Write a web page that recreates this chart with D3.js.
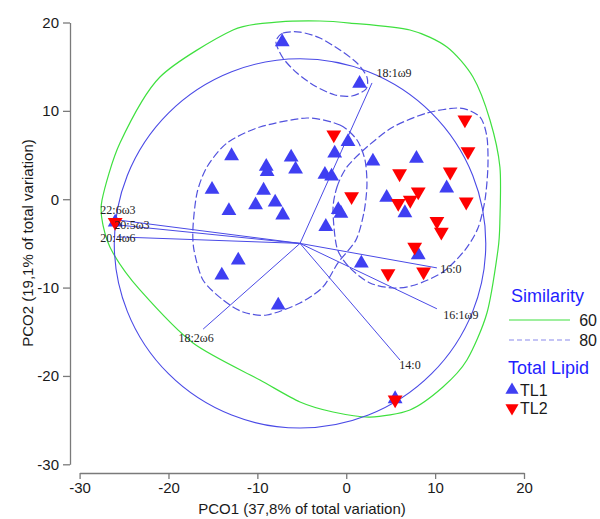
<!DOCTYPE html>
<html>
<head>
<meta charset="utf-8">
<script src="https://cdn.jsdelivr.net/npm/d3@7"></script>
<style>
  body { margin: 0; background: #fff; }
  svg { display: block; font-family: Arial, "Liberation Sans", sans-serif; }
</style>
</head>
<body>
<svg id="chart" width="600" height="519"></svg>
<script>
const xTicks = [-30, -20, -10, 0, 10, 20];
const yTicks = [-30, -20, -10, 0, 10, 20];

const tl1 = [
  [-7.2, 17.8], [1.5, 13.1], [-12.9, 4.9], [-9.0, 3.7], [-8.9, 3.1], [-6.2, 4.75],
  [-5.7, 3.4], [-15.1, 1.1], [-9.3, 1.0], [-10.2, -0.65], [-8.0, -0.35], [-13.2, -1.3],
  [-7.15, -1.8], [-12.15, -6.9], [-14.0, -8.6], [-7.65, -12.0], [0.2, 6.5], [-1.3, 5.2],
  [-2.4, 2.8], [-1.65, 2.6], [3.0, 4.3], [7.9, 4.6], [11.3, 1.25], [4.55, 0.2],
  [6.6, -1.55], [-0.9, -1.2], [-0.6, -1.6], [-2.3, -3.1], [8.1, -6.3], [1.7, -7.25],
  [-26.0, -2.6], [5.5, -22.6]
];

const tl2 = [
  [13.35, 9.0], [13.7, 5.4], [-1.4, 7.3], [6.0, 2.9], [11.7, 3.1], [0.6, 0.3],
  [8.1, 0.85], [7.2, -0.1], [5.85, -0.45], [13.5, -0.3], [10.2, -2.5], [10.7, -3.7],
  [7.7, -5.4], [4.7, -8.4], [8.7, -8.2], [-26.0, -2.6], [5.5, -22.7]
];

// vector overlay
const vecOrigin = [-5.2, -5.0];
const vecRadius = 20.9;
const vecNames = ["22:6ω3", "20:5ω3", "20:4ω6", "18:1ω9", "18:2ω6", "16:0", "16:1ω9", "14:0"];
const vecEnds = [
  [-25.8, -2.34], [-25.8, -2.9], [-25.8, -4.26], [2.9, 13.16],
  [-16.1, -14.7], [10.2, -7.77], [10.2, -12.4], [6.05, -18.2]
];
const vecLabelShift = [[1, -10], [15, 0], [1, 1], [22, -10], [-7, 9], [14, 1], [24, 6], [10, 5]];

// similarity contours
const sim60 = [
  [-2.96, 20.17], [0.42, 19.94], [7.17, 19.15], [11.33, 17.23], [14.26, 13.83], [16.17, 8.97],
  [17.29, 3.65], [17.29, -2.35], [17.07, -5.75], [15.83, -12.88], [13.58, -18.2], [10.88, -21.25],
  [7.17, -23.85], [2.67, -24.65], [-1.49, -24.08], [-5.2, -22.95], [-9.71, -20.46], [-17.24, -16.27],
  [-23.21, -10.27], [-26.24, -6.09], [-27.37, -2.92], [-27.48, -0.09], [-25.46, 6.36], [-20.96, 13.83],
  [-12.74, 19.15], [-7.46, 20.06]
];
const sim80top = [
  [-7.91, 17.79], [-7.12, 18.81], [-5.2, 18.92], [-2.96, 18.25], [-0.71, 16.89], [1.21, 15.42],
  [2.33, 13.83], [2.22, 12.47], [0.64, 11.68], [-1.27, 11.8], [-3.52, 12.81], [-5.54, 14.28],
  [-7.12, 15.98]
];
const sim80left = [
  [-4.42, 9.19], [-0.71, 8.4], [1.21, 6.7], [2.11, 4.44], [2.33, 1.61], [2.0, -1.45],
  [1.1, -4.6], [-0.93, -7.2], [-2.62, -9.93], [-5.2, -11.75], [-8.92, -13.1], [-11.62, -12.76],
  [-13.87, -11.4], [-16.12, -9.14], [-17.13, -5.75], [-17.24, -3.14], [-16.79, 0.7], [-15.67, 3.65],
  [-13.42, 6.36], [-9.71, 8.17]
];
const sim80right = [
  [-1.49, -1.22], [-1.04, 1.38], [0.08, 3.65], [2.33, 5.91], [5.26, 8.17], [9.08, 9.76],
  [12.79, 10.32], [15.04, 9.31], [15.83, 7.04], [15.94, 3.65], [15.61, -0.09], [14.82, -3.26],
  [13.36, -5.75], [10.88, -8.24], [7.73, -9.71], [5.26, -10.05], [2.67, -9.48], [0.42, -7.78],
  [-1.04, -5.52]
];

const blue = "#3f3ff2";
const red = "#ff0000";
const lineBlue = "#4a4ae6";
const green = "#3fe03f";
const axisGrey = "#7a7a7a";

const svg = d3.select("#chart");

const x = d3.scaleLinear().domain([-30, 20]).range([79.6, 524]);
const y = d3.scaleLinear().domain([-30, 20]).range([464.3, 22.5]);

const plot = svg.append("g");

const contour = d3.line()
  .x(d => x(d[0]))
  .y(d => y(d[1]))
  .curve(d3.curveCardinalClosed.tension(0.2));

plot.append("path")
  .attr("d", contour(sim60))
  .attr("fill", "none")
  .attr("stroke", green)
  .attr("stroke-width", 1.2);

[sim80top, sim80left, sim80right].forEach(c => {
  plot.append("path")
    .attr("d", contour(c))
    .attr("fill", "none")
    .attr("stroke", "#5252de")
    .attr("stroke-width", 1.2)
    .attr("stroke-dasharray", "8,3");
});

plot.append("ellipse")
  .attr("cx", x(vecOrigin[0]))
  .attr("cy", y(vecOrigin[1]))
  .attr("rx", x(vecOrigin[0] + vecRadius) - x(vecOrigin[0]))
  .attr("ry", y(vecOrigin[1]) - y(vecOrigin[1] + vecRadius))
  .attr("fill", "none")
  .attr("stroke", lineBlue)
  .attr("stroke-width", 1.1);

plot.selectAll("line.vec")
  .data(vecEnds)
  .join("line")
  .attr("class", "vec")
  .attr("x1", x(vecOrigin[0]))
  .attr("y1", y(vecOrigin[1]))
  .attr("x2", d => x(d[0]))
  .attr("y2", d => y(d[1]))
  .attr("stroke", lineBlue)
  .attr("stroke-width", 1);

const tri = d3.symbol().type(d3.symbolTriangle).size(95);

plot.selectAll("path.tl1")
  .data(tl1)
  .join("path")
  .attr("class", "tl1")
  .attr("d", tri)
  .attr("transform", d => `translate(${x(d[0])},${y(d[1])})`)
  .attr("fill", blue);

plot.selectAll("path.tl2")
  .data(tl2)
  .join("path")
  .attr("class", "tl2")
  .attr("d", tri)
  .attr("transform", d => `translate(${x(d[0])},${y(d[1])}) rotate(180)`)
  .attr("fill", red);

plot.selectAll("text.vlab")
  .data(vecEnds)
  .join("text")
  .attr("class", "vlab")
  .attr("x", (d, i) => x(d[0]) + vecLabelShift[i][0])
  .attr("y", (d, i) => y(d[1]) + vecLabelShift[i][1])
  .attr("dy", "0.35em")
  .attr("text-anchor", "middle")
  .attr("font-family", "'Liberation Serif', 'Times New Roman', serif")
  .attr("font-size", 12)
  .attr("fill", "#222")
  .text((d, i) => vecNames[i]);

// axes
const fmt = d => String(d);
const xAxis = svg.append("g")
  .attr("transform", "translate(0,473)")
  .call(d3.axisBottom(x).tickValues(xTicks).tickFormat(fmt).tickSize(6).tickSizeOuter(0).tickPadding(3));
const yAxis = svg.append("g")
  .attr("transform", "translate(70,0)")
  .call(d3.axisLeft(y).tickValues(yTicks).tickFormat(fmt).tickSize(7).tickSizeOuter(0).tickPadding(4));

[xAxis, yAxis].forEach(a => {
  a.select(".domain").attr("stroke", axisGrey).attr("stroke-width", 1.3);
  a.selectAll(".tick line").attr("stroke", axisGrey).attr("stroke-width", 1.3);
  a.selectAll(".tick text")
    .attr("fill", "#1a1a1a")
    .attr("font-size", 15)
    .attr("font-family", "Arial, 'Liberation Sans', sans-serif");
});

svg.append("text")
  .attr("x", 302)
  .attr("y", 514)
  .attr("text-anchor", "middle")
  .attr("font-size", 15)
  .attr("fill", "#1a1a1a")
  .text("PCO1 (37,8% of total variation)");

svg.append("text")
  .attr("transform", "translate(33,243) rotate(-90)")
  .attr("text-anchor", "middle")
  .attr("font-size", 15)
  .attr("fill", "#1a1a1a")
  .text("PCO2 (19,1% of total variation)");

// legend
const legend = svg.append("g").attr("transform", "translate(508,0)");

legend.append("text")
  .attr("x", 3).attr("y", 302)
  .attr("font-size", 18).attr("fill", "#1f1fff")
  .text("Similarity");

legend.append("line")
  .attr("x1", 1).attr("x2", 62).attr("y1", 320).attr("y2", 320)
  .attr("stroke", green).attr("stroke-width", 1.2);
legend.append("text")
  .attr("x", 89).attr("y", 320).attr("dy", "0.35em")
  .attr("text-anchor", "end")
  .attr("font-size", 16).attr("fill", "#1a1a1a")
  .text("60");

legend.append("line")
  .attr("x1", 1).attr("x2", 62).attr("y1", 340).attr("y2", 340)
  .attr("stroke", "#8a8aec").attr("stroke-width", 1.2)
  .attr("stroke-dasharray", "5,3");
legend.append("text")
  .attr("x", 89).attr("y", 340).attr("dy", "0.35em")
  .attr("text-anchor", "end")
  .attr("font-size", 16).attr("fill", "#1a1a1a")
  .text("80");

legend.append("text")
  .attr("x", 0).attr("y", 374)
  .attr("font-size", 18).attr("fill", "#1f1fff")
  .text("Total Lipid");

const legTri = d3.symbol().type(d3.symbolTriangle).size(75);
legend.append("path")
  .attr("d", legTri)
  .attr("transform", "translate(4,390)")
  .attr("fill", blue);
legend.append("text")
  .attr("x", 12).attr("y", 390).attr("dy", "0.35em")
  .attr("font-size", 16).attr("fill", "#1a1a1a")
  .text("TL1");

legend.append("path")
  .attr("d", legTri)
  .attr("transform", "translate(4,408) rotate(180)")
  .attr("fill", red);
legend.append("text")
  .attr("x", 12).attr("y", 408).attr("dy", "0.35em")
  .attr("font-size", 16).attr("fill", "#1a1a1a")
  .text("TL2");
</script>
</body>
</html>
